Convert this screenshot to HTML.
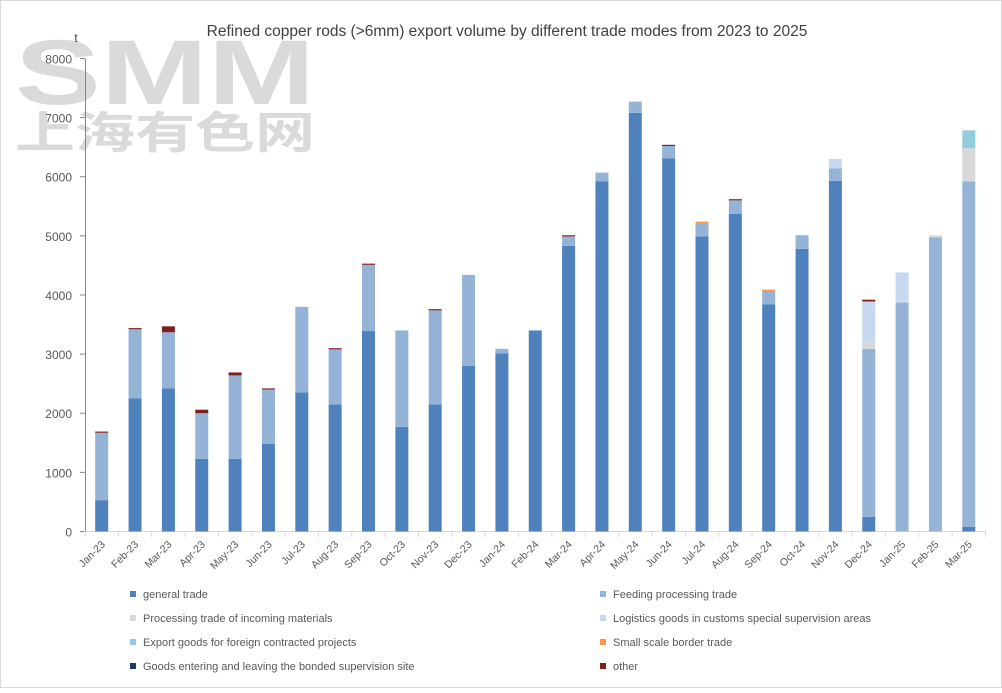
<!DOCTYPE html>
<html><head><meta charset="utf-8"><style>
body{margin:0;background:#fff;}
svg text{font-family:"Liberation Sans",sans-serif;}
</style></head><body>
<svg id="s" width="1002" height="688" xmlns="http://www.w3.org/2000/svg">
<rect x="0.5" y="0.5" width="1001" height="687" fill="#fff" stroke="#d9d9d9"/>
<text x="15" y="104" font-size="92" font-weight="bold" fill="#dadada" textLength="300" lengthAdjust="spacingAndGlyphs">SMM</text>
<text x="15" y="148" font-size="44" font-weight="bold" fill="#dadada" style="font-family:'Noto Sans CJK SC',sans-serif" textLength="300" lengthAdjust="spacingAndGlyphs">上海有色网</text>
<text x="507" y="36" font-size="15.5" fill="#404040" text-anchor="middle">Refined copper rods (&gt;6mm) export volume by different trade modes from 2023 to 2025</text>
<text x="76" y="42" font-size="12" fill="#404040" text-anchor="middle">t</text>
<g id="g"></g>
</svg>
<script>
var C={gen:"#4f81bd",feed:"#95b3d7",proc:"#d9d9d9",log:"#c6d9f1",exp:"#92cddc",bord:"#f79646",bond:"#1f3864",oth:"#7f1f1f"};
var labels=["Jan-23","Feb-23","Mar-23","Apr-23","May-23","Jun-23","Jul-23","Aug-23","Sep-23","Oct-23","Nov-23","Dec-23","Jan-24","Feb-24","Mar-24","Apr-24","May-24","Jun-24","Jul-24","Aug-24","Sep-24","Oct-24","Nov-24","Dec-24","Jan-25","Feb-25","Mar-25"];
var D=[
[["gen",530],["feed",1140],["oth",20]],
[["gen",2250],["feed",1170],["oth",20]],
[["gen",2420],["feed",950],["oth",100]],
[["gen",1230],["feed",770],["oth",60]],
[["gen",1230],["feed",1410],["oth",50]],
[["gen",1480],["feed",920],["oth",20]],
[["gen",2350],["feed",1450]],
[["gen",2150],["feed",930],["oth",20]],
[["gen",3390],["feed",1120],["oth",20]],
[["gen",1770],["feed",1630]],
[["gen",2150],["feed",1590],["oth",20]],
[["gen",2800],["feed",1540]],
[["gen",3010],["feed",80]],
[["gen",3400]],
[["gen",4830],["feed",160],["oth",20]],
[["gen",5920],["feed",150]],
[["gen",7080],["feed",190]],
[["gen",6310],["feed",210],["oth",20]],
[["gen",4990],["feed",220],["bord",30]],
[["gen",5370],["feed",230],["oth",20]],
[["gen",3840],["feed",210],["bord",40]],
[["gen",4780],["feed",230]],
[["gen",5930],["feed",210],["log",160]],
[["gen",250],["feed",2840],["proc",130],["log",670],["oth",30]],
[["feed",3875],["proc",25],["log",465],["exp",12]],
[["feed",4975],["proc",35]],
[["gen",80],["feed",5842],["proc",558],["exp",305]]];
var y0=531.5,k=0.05913,h="";
for(var i=0;i<=8;i++){var y=y0-i*1000*k;h+='<line x1="80" y1="'+y+'" x2="85" y2="'+y+'" stroke="#868686"/>';h+='<text x="72" y="'+(y+5)+'" font-size="12" fill="#595959" text-anchor="end">'+(i*1000)+'</text>';}
h+='<line x1="85.5" y1="59" x2="85.5" y2="532" stroke="#868686"/>';
h+='<line x1="85" y1="531.5" x2="985" y2="531.5" stroke="#d9d9d9"/>';
for(var i=0;i<=27;i++){var x=85+i*33.35;h+='<line x1="'+x+'" y1="531" x2="'+x+'" y2="537" stroke="#d9d9d9"/>';}
D.forEach(function(b,i){var cx=101.7+i*33.35,acc=0;b.forEach(function(s){var t=y0-(acc+s[1])*k,hh=s[1]*k;h+='<rect x="'+(cx-6.5)+'" y="'+t+'" width="13" height="'+hh+'" fill="'+C[s[0]]+'"/>';acc+=s[1];});
h+='<text transform="translate('+(cx+4)+',545) rotate(-45)" font-size="10.5" fill="#595959" text-anchor="end">'+labels[i]+'</text>';});
var L=[["gen","general trade",133,594],["feed","Feeding processing trade",603,594],["proc","Processing trade of incoming materials",133,618],["log","Logistics goods in customs special supervision areas",603,618],["exp","Export goods for foreign contracted projects",133,642],["bord","Small scale border trade",603,642],["bond","Goods entering and leaving the bonded supervision site",133,666],["oth","other",603,666]];
L.forEach(function(l){h+='<rect x="'+(l[2]-3)+'" y="'+(l[3]-3)+'" width="6" height="6" fill="'+C[l[0]]+'"/><text x="'+(l[2]+10)+'" y="'+(l[3]+4)+'" font-size="11" fill="#595959">'+l[1]+'</text>';});
document.getElementById("g").innerHTML=h;
</script>
</body></html>
